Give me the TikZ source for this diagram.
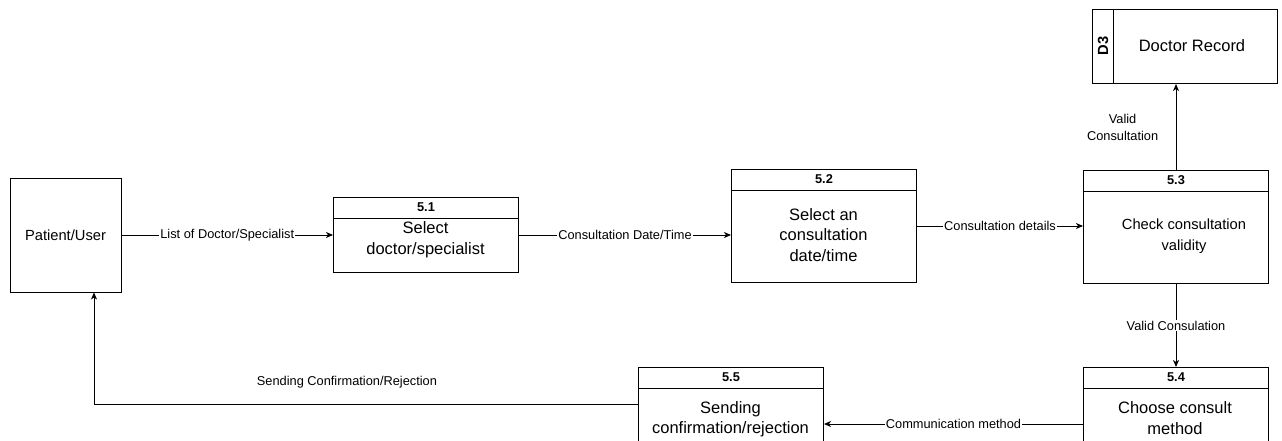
\documentclass[tikz,border=0pt]{standalone}
\usepackage{fontspec}
\setmainfont{Liberation Sans}
\usetikzlibrary{arrows.meta}

\tikzstyle{extent}=[draw,line width=1pt,minimum width=111pt,minimum height=114pt,inner sep=0pt,font=\fontsize{14.7}{17}\selectfont]
\tikzstyle{proc}=[draw,line width=1pt,minimum width=185pt,minimum height=113pt,inner sep=0pt,anchor=north west]
\tikzstyle{num}=[inner sep=0pt,font=\bfseries\fontsize{12.8}{15}\selectfont]
\tikzstyle{body}=[inner sep=0pt,align=center,font=\fontsize{16.5}{20.5}\selectfont]
\tikzstyle{lbl}=[fill=white,inner sep=1pt,font=\fontsize{12.8}{15}\selectfont]
\tikzstyle{flow}=[line width=1pt,-{Stealth[length=7pt,width=6pt,inset=2pt]}]

\begin{document}
\begin{tikzpicture}[x=1pt,y=-1pt]
  \useasboundingbox (0,0) rectangle (1282,441);

  % external entity and data store
  \node (user) at (65.5,235) [extent] {Patient/User};
  \node (d3) at (1092,9) [draw,line width=1pt,anchor=north west,minimum width=185pt,minimum height=74pt] {};
  \draw[line width=1pt] ([xshift=21pt]d3.north west) -- ([xshift=21pt]d3.south west);
  \node (d3id) at (1103,46) [num,rotate=90,font=\bfseries\fontsize{14.7}{17}\selectfont] {D3};
  \node (d3name) at (1192,46) [body] {Doctor Record};

  % processes
  \node (p1) at (333,197) [proc,minimum height=75pt] {};
  \node (p2) at (731,169) [proc] {};
  \node (p3) at (1083,170) [proc] {};
  \node (p4) at (1083,367) [proc] {};
  \node (p5) at (638,367) [proc] {};
  \foreach \i in {1,...,5}{
    \draw[line width=1pt] ([yshift=-21pt]p\i.north west) -- ([yshift=-21pt]p\i.north east);
    \node (n\i) at ([yshift=-10.5pt]p\i.north) [num] {5.\i};
  }
  \node (t1) at (425.5,239.5) [body] {Select\\doctor/specialist};
  \node (t2) at (823.5,235) [body] {Select an\\consultation\\date/time};
  \node (t3) at (1184,236.5) [body,font=\fontsize{14.7}{21}\selectfont] {Check consultation\\validity};
  \node (t4) at (1175,418) [body] {Choose consult\\method};
  \node (t5) at (730.5,419) [body] {Sending\\confirmation/rejection};

  % data flows
  \draw[flow] (user.east) -- node[lbl] {List of Doctor/Specialist} (p1.west);
  \draw[flow] (p1.east) -- node[lbl] {Consultation Date/Time} (p1.east -| p2.west);
  \draw[flow] (p2.east) -- node[lbl] {Consultation details} (p2.east -| p3.west);
  \draw[flow] (p3.north) -- node[left=14pt,align=center,font=\fontsize{12.8}{17}\selectfont] {Valid\\Consultation} (p3.north |- d3.south);
  \draw[flow] (p3.south) -- node[lbl] {Valid Consulation} (p4.north);
  \draw[flow] (p4.west) -- node[lbl] {Communication method} (p5.east);
  \coordinate (ret) at (94,404);
  \draw[flow] (p5.west |- ret) -- node[pos=0.535,above=12pt,font=\fontsize{12.8}{15}\selectfont] {Sending Confirmation/Rejection} (ret) -- (ret |- user.south);
\end{tikzpicture}
\end{document}
